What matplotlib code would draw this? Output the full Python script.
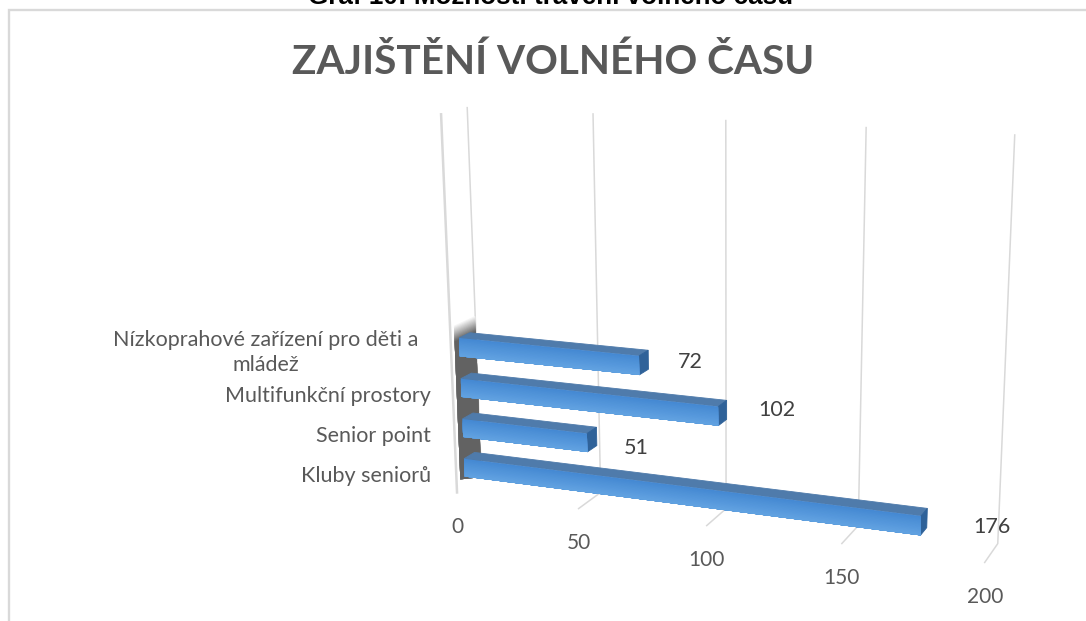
import numpy as np
import matplotlib
matplotlib.use("Agg")
import matplotlib.pyplot as plt

# ---------- data ----------
categories = ["Kluby seniorů", "Senior point", "Multifunkční prostory",
              "Nízkoprahové zařízení pro děti a\nmládež"]
values = [176, 51, 102, 72]
value_ticks = [0, 50, 100, 150, 200]
chart_title = "ZAJIŠTĚNÍ VOLNÉHO ČASU"
caption = "Graf 10: Možnosti trávení volného času"

GRID = "#d9d9d9"
TXT = "#595959"
VMAX = 200.0

# ---------- perspective camera fitted to the plot box of the chart ----------
# world: v (value), d (0 front..1 back), z (0 floor..1 top)
anchors = [
    (0, 1, 1, 467, 108), (50, 1, 1, 594, 113), (100, 1, 1, 725, 120),
    (150, 1, 1, 866, 128), (200, 1, 1, 1015, 135),
    (0, 1, 0, 481, 478), (50, 1, 0, 601, 493), (100, 1, 0, 727, 509),
    (150, 1, 0, 858, 525), (200, 1, 0, 997, 543),
    (0, 0, 0, 457, 492), (50, 0, 0, 578, 507), (100, 0, 0, 707, 525),
    (150, 0, 0, 842, 545), (200, 0, 0, 985, 563),
    (0, 0, 1, 441, 115),
]
A = []
b = []
for v, d, z, x, y in anchors:
    w = [v / VMAX, d, z, 1]
    A.append(w + [0, 0, 0, 0] + [-x * c for c in w[:3]])
    b.append(x * 1)
    A.append([0, 0, 0, 0] + w + [-y * c for c in w[:3]])
    b.append(y * 1)
sol = np.linalg.lstsq(np.array(A, float), np.array(b, float), rcond=None)[0]
P = np.append(sol, 1.0).reshape(3, 4)


def project(v, d, z):
    h = P @ np.array([v / VMAX, d, z, 1.0])
    return h[0] / h[2], h[1] / h[2]


def blend(c1, c2, t):
    a = np.array(matplotlib.colors.to_rgb(c1))
    b_ = np.array(matplotlib.colors.to_rgb(c2))
    return tuple(a + (b_ - a) * t)


fig = plt.figure(figsize=(10.86, 6.21), dpi=100, facecolor="white")
ax = fig.add_axes([0, 0, 1, 1])
ax.set_xlim(0, 1086)
ax.set_ylim(621, 0)
ax.axis("off")
plt.rcParams["font.family"] = ["Lato", "DejaVu Sans"]


def quad(pts, color, zorder, edge=False):
    xs, ys = zip(*[project(*p) for p in pts])
    ax.fill(xs, ys, facecolor=color, edgecolor=color if edge else "none",
            lw=0.6 if edge else 0, zorder=zorder)


# frame of the embedded chart
ax.plot([8.5, 8.5, 1086], [621, 10, 10], color=GRID, lw=1.7, zorder=1,
        solid_joinstyle="miter")

# gridlines on back wall and floor
for t in value_ticks:
    pts = [project(t, 1, 1), project(t, 1, 0), project(t, 0, 0)]
    if t == 0:
        pts = [project(t, 1, 1), project(t, 1, 0)]
    ax.plot(*zip(*pts), color=GRID, lw=1.1, zorder=2)
# side wall edges
e = [project(0, 0, 1), project(0, 0, 0)]
ax.plot(*zip(*e), color=GRID, lw=1.8, zorder=2)

# ---------- bars ----------
n = len(values)
SLOT = 0.1105
BAR_H = 0.05
D0, D1 = 0.33, 0.76
Z_TOP = SLOT * n + 0.008

# nudges of the value labels away from the bar ends, in pixels
label_nudge = {176: (3, 5), 51: (4, 9), 102: (4, -3), 72: (2, 0)}

# dark side wall behind the bars: each band overlays the ones painted before it
WALL = "#626262"
fade = 0.045
steps = 14
for i in range(steps):
    t = 1 - (i + 1) / steps
    top = Z_TOP - fade * (i / steps)
    quad([(0, 0.15, 0.03), (0, 1, 0.0), (0, 1, top), (0, 0.15, top)],
         blend(WALL, "white", t), 3)

FRONT_TOP = "#4488d2"
FRONT_BOT = "#62a3e2"
for i, val in reversed(list(enumerate(values))):
    zc = (i + 0.5) * SLOT
    z0, z1 = zc - BAR_H / 2, zc + BAR_H / 2
    zo = 5 + (n - i)
    # top face
    quad([(0, D0, z1), (val, D0, z1), (val, D1, z1), (0, D1, z1)], "#4f7bab", zo, edge=True)
    # right end
    quad([(val, D0, z0), (val, D1, z0), (val, D1, z1), (val, D0, z1)], "#2f6299", zo, edge=True)
    # front face with a vertical gradient: each band overlays the rest of the face
    for s in range(steps):
        a0 = z1 - (z1 - z0) * s / steps
        quad([(0, D0, a0), (val, D0, a0), (val, D0, z0), (0, D0, z0)],
             blend(FRONT_TOP, FRONT_BOT, (s + 0.5) / steps), zo + 0.5)
    # value label beside the bar end
    xe, ye = project(val, 0.55, zc)
    dx, dy = label_nudge[val]
    ax.text(xe + 30 + 0.2 * val + dx, ye + dy, str(val), ha="center", va="center",
            fontsize=15.5, color="#404040", zorder=20)
    # category label
    xl, yl = project(0, D0, zc)
    if "\n" in categories[i]:
        ax.text(266, yl + 5.5, categories[i], ha="center", va="center",
                fontsize=15.5, color=TXT, linespacing=1.35, zorder=20)
    else:
        ax.text(431, yl + 8, categories[i], ha="right", va="center",
                fontsize=15.5, color=TXT, zorder=20)

# value axis tick labels
for t in value_ticks:
    x, y = project(t, 0, 0)
    ax.text(x, y + 34.5, str(t), ha="center", va="center", fontsize=15,
            color=TXT, zorder=20)

ax.text(553, 62, chart_title, ha="center", va="center", fontsize=29.2,
        fontweight="bold", color=TXT, zorder=20)
ax.text(551, 4, caption, ha="center", va="baseline", fontsize=18.7,
        fontweight="bold", color="black", family="Liberation Sans", zorder=20)

fig.savefig("out.png", dpi=100, facecolor="white")
